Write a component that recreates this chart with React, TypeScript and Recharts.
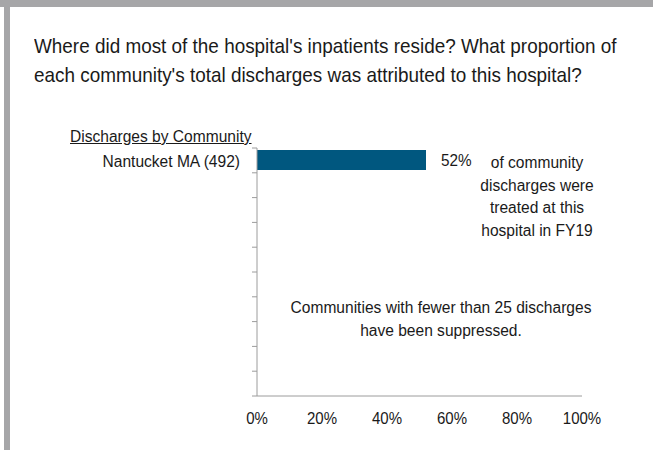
import { Bar, BarChart, LabelList, XAxis, YAxis } from 'recharts'

const communities = ['Nantucket MA (492)', '', '', '', '', '', '', '', '', '']
const shares: (number | null)[] = [0.52, null, null, null, null, null, null, null, null, null]
const xTicks = [0, 0.2, 0.4, 0.6, 0.8, 1]

const FONT = '"Liberation Sans", Arial, sans-serif'
const TEXT = '#1a1a1a'
const AXIS = '#9c9c9c'
const SQUEEZE = 0.9 // source font is a slightly condensed Arial

const W = 653
const H = 460
const PLOT_TOP = 148
const PLOT_BOTTOM = 396
const BAND = (PLOT_BOTTOM - PLOT_TOP) / communities.length

const data = communities.map((name, i) => ({ id: `c${i}`, name, share: shares[i] }))

const pct = (v: unknown) => (v == null ? '' : `${Math.round(Number(v) * 100)}%`)

// category axis: ticks sit on band edges, label in the band middle
function CommunityTick(props: any) {
  const { x, y, index } = props
  const name = communities[index] ?? ''
  const top = y - BAND / 2
  return (
    <g>
      <line x1={x - 5} x2={x} y1={top} y2={top} stroke={AXIS} />
      {index === communities.length - 1 && (
        <line x1={x - 5} x2={x} y1={top + BAND} y2={top + BAND} stroke={AXIS} />
      )}
      <text
        transform={`translate(${x - 17},${y}) scale(${SQUEEZE},1)`}
        dy="0.36em"
        textAnchor="end"
        fontSize={17.3}
        fill={TEXT}
        fontFamily={FONT}
      >
        {name}
      </text>
    </g>
  )
}

function PctTick(props: any) {
  const { x, y, payload } = props
  return (
    <text
      transform={`translate(${x},${y}) scale(${SQUEEZE},1)`}
      dy="0.71em"
      textAnchor="middle"
      fontSize={16.7}
      fill={TEXT}
      fontFamily={FONT}
    >
      {pct(payload.value)}
    </text>
  )
}

function ShareLabel(props: any) {
  const { x, y, width, height, value } = props
  if (value == null) return null
  return (
    <text
      transform={`translate(${x + width + 15},${y + height / 2}) scale(${SQUEEZE},1)`}
      dy="0.38em"
      fontSize={17}
      fill={TEXT}
      fontFamily={FONT}
    >
      {pct(value)}
    </text>
  )
}

const squeezed = (origin: string) => ({ transform: `scaleX(${SQUEEZE})`, transformOrigin: origin })

export default function App() {
  return (
    <div style={{ position: 'absolute', left: 0, top: 0, width: W, height: H, background: '#fff', fontFamily: FONT, color: TEXT }}>
      <div style={{ position: 'absolute', left: 0, top: 0, width: W, height: 7, background: '#a6a6a8' }} />
      <div style={{ position: 'absolute', left: 4, top: 0, width: 6, height: 450, background: '#a6a6a8' }} />

      <div style={{ position: 'absolute', left: 34, top: 31, fontSize: 21, lineHeight: '29px', whiteSpace: 'nowrap', ...squeezed('left top') }}>
        Where did most of the hospital's inpatients reside? What proportion of
        <br />
        each community's total discharges was attributed to this hospital?
      </div>

      <div style={{ position: 'absolute', left: 70, top: 126, fontSize: 17.3, lineHeight: '20px', textDecoration: 'underline', whiteSpace: 'nowrap', ...squeezed('left top') }}>
        Discharges by Community
      </div>

      <BarChart
        width={W}
        height={H}
        data={data}
        layout="vertical"
        margin={{ top: PLOT_TOP, right: 71, bottom: H - PLOT_BOTTOM - 30, left: 0 }}
        barSize={20}
      >
        <XAxis
          type="number"
          domain={[0, 1]}
          ticks={xTicks}
          tickLine={false}
          axisLine={{ stroke: AXIS }}
          tick={<PctTick />}
          tickMargin={10}
          height={30}
          interval={0}
        />
        <YAxis
          type="category"
          dataKey="id"
          width={257}
          axisLine={{ stroke: AXIS }}
          tickLine={false}
          tickSize={0}
          tickMargin={0}
          interval={0}
          tick={<CommunityTick />}
        />
        <Bar dataKey="share" fill="#00577f" isAnimationActive={false}>
          <LabelList dataKey="share" content={<ShareLabel />} />
        </Bar>
      </BarChart>

      <div style={{ position: 'absolute', left: 464, top: 151, width: 146, textAlign: 'center', fontSize: 17.3, lineHeight: '22.5px', ...squeezed('center top') }}>
        of community
        <br />
        discharges were
        <br />
        treated at this
        <br />
        hospital in FY19
      </div>

      <div style={{ position: 'absolute', left: 261, top: 296, width: 360, textAlign: 'center', fontSize: 17.3, lineHeight: '23px', ...squeezed('center top') }}>
        Communities with fewer than 25 discharges
        <br />
        have been suppressed.
      </div>
    </div>
  )
}
